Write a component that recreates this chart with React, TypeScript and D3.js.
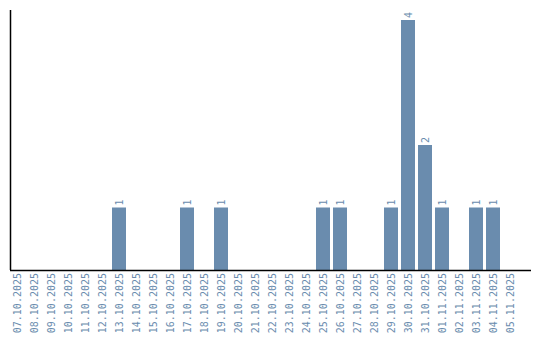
import React from "react";
import * as d3 from "d3";

const dates = [
  "07.10.2025","08.10.2025","09.10.2025","10.10.2025","11.10.2025","12.10.2025",
  "13.10.2025","14.10.2025","15.10.2025","16.10.2025","17.10.2025","18.10.2025",
  "19.10.2025","20.10.2025","21.10.2025","22.10.2025","23.10.2025","24.10.2025",
  "25.10.2025","26.10.2025","27.10.2025","28.10.2025","29.10.2025","30.10.2025",
  "31.10.2025","01.11.2025","02.11.2025","03.11.2025","04.11.2025","05.11.2025",
];
const counts = [0,0,0,0,0,0,1,0,0,0,1,0,1,0,0,0,0,0,1,1,0,0,1,4,2,1,0,1,1,0];

const W = 540, H = 340;
const COLOR = "#6a8cae";
const FONT = "DejaVu Sans Mono, monospace";

export default function App() {
  const x = d3.scaleBand<string>().domain(dates).range([8.5, 518.5]).paddingInner(3 / 17).paddingOuter(1.5 / 17);
  const y = d3.scaleLinear().domain([0, 4]).range([270, 20]);
  const bw = x.bandwidth();
  return (
    <svg width={W} height={H} style={{ position: "absolute", left: 0, top: 0 }}>
      {dates.map((d, i) => {
        const v = counts[i];
        const cx = (x(d) as number) + bw / 2;
        return (
          <g key={d}>
            {v > 0 && (
              <>
                <rect x={x(d)} y={y(v)} width={bw} height={y(0) - y(v)} fill={COLOR} />
                <text transform={`translate(${cx + 3.5},${y(v) - 2}) rotate(-90)`} fontSize={10} fontFamily={FONT} fill={COLOR}>{v}</text>
              </>
            )}
            <text transform={`translate(${cx + 3.5},273) rotate(-90)`} textAnchor="end" fontSize={10} fontFamily={FONT} fill={COLOR}>{d}</text>
          </g>
        );
      })}
      <line x1={10.5} x2={10.5} y1={10} y2={270} stroke="#000" strokeWidth={1.5} />
      <line x1={10} x2={531} y1={270.5} y2={270.5} stroke="#000" strokeWidth={1.5} />
    </svg>
  );
}
